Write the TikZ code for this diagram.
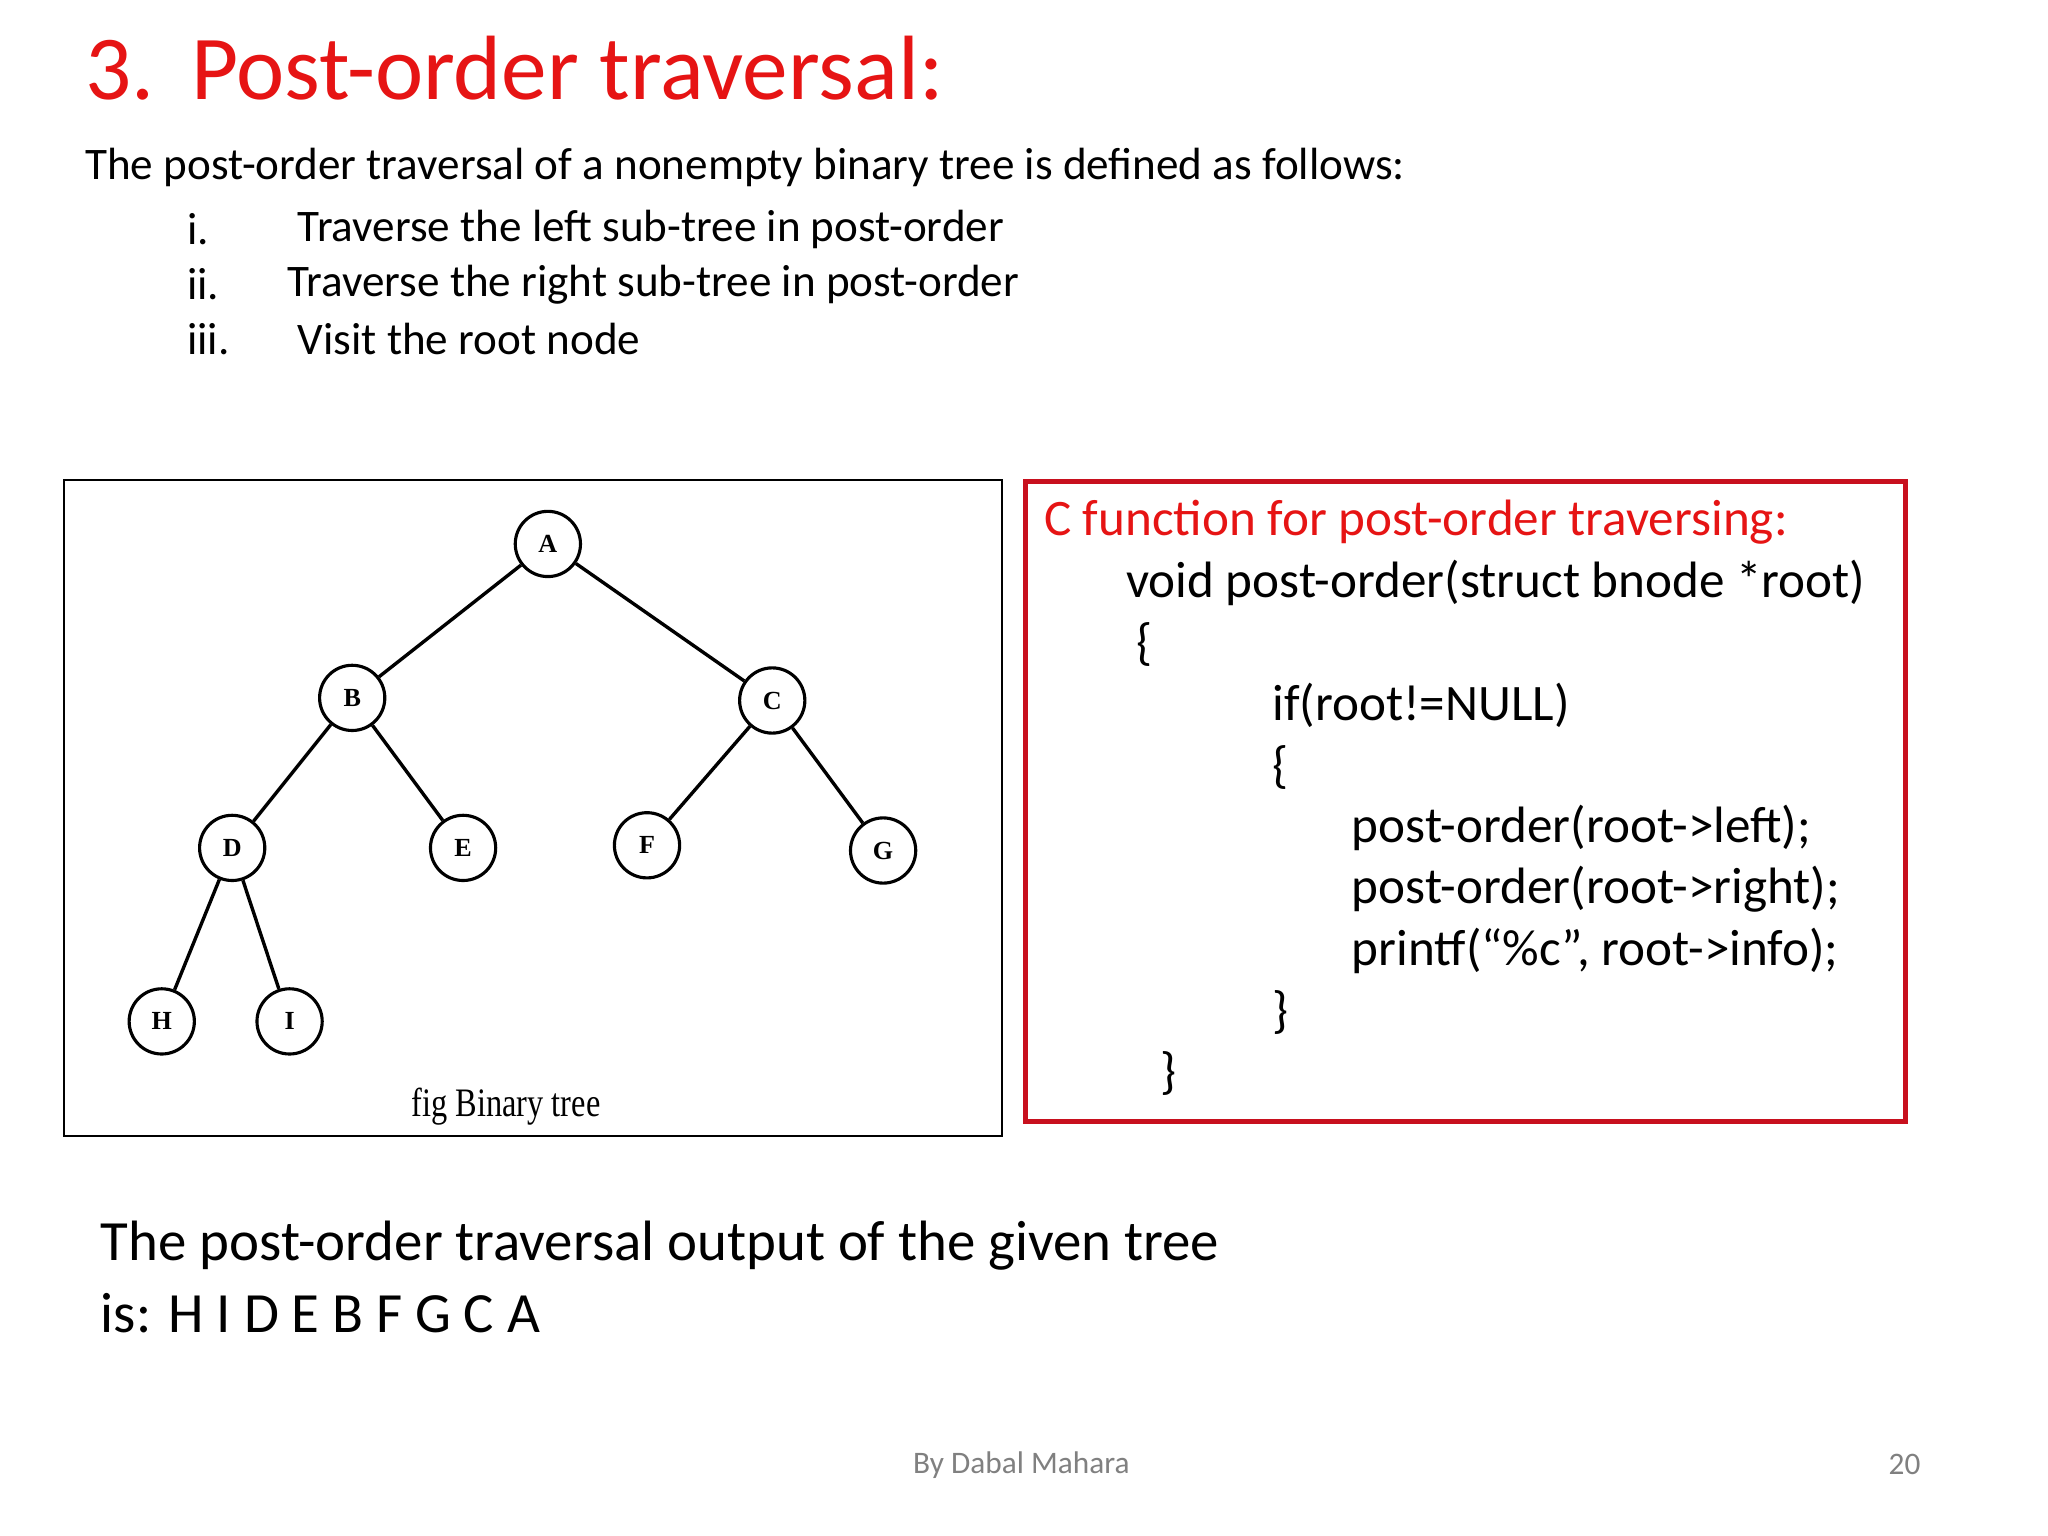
\documentclass[tikz,border=0pt]{standalone}
\usepackage{fontspec}
\setmainfont{Carlito}
\newfontfamily\treefont{Liberation Serif}
\definecolor{tred}{RGB}{230,20,20}
\definecolor{bred}{RGB}{200,16,30}
\begin{document}
\begin{tikzpicture}[x=0.5pt,y=-0.5pt,
  tn/.style={circle,draw,line width=1.2pt,minimum size=25pt,inner sep=0pt,font=\treefont\bfseries\fontsize{10}{12}\selectfont},
  tx/.style={anchor=west,inner sep=0pt},
  body/.style={tx,font=\fontsize{17.3}{20}\selectfont},
  code/.style={tx,font=\fontsize{19.6}{23}\selectfont}]
\useasboundingbox (0,0) rectangle (1570,1177);
\fill[white] (0,0) rectangle (1570,1177);
\node[tx,text=tred,font=\fontsize{35}{40}\selectfont] (title) at (65,52) {3.\hspace{14pt}Post-order traversal:};
\node[body] (l0) at (65,128) {The post-order traversal of a nonempty binary tree is defined as follows:};
\node[body] (n1) at (143,176) {i.};
\node[body] (t1) at (228,176) {Traverse the left sub-tree in post-order};
\node[body] (n2) at (143,218) {ii.};
\node[body] (t2) at (220,218) {Traverse the right sub-tree in post-order};
\node[body] (n3) at (143,260) {iii.};
\node[body] (t3) at (228,260) {Visit the root node};
\node[draw,line width=0.8pt,minimum width=359.5pt,minimum height=251.5pt,anchor=north west,inner sep=0pt] (lbox) at (48,367) {};
\node[tn] (A) at (420,417) {A};
\node[tn] (B) at (270,535) {B};
\node[tn] (C) at (592,537) {C};
\node[tn] (D) at (178,650) {D};
\node[tn] (E) at (355,650) {E};
\node[tn] (F) at (496,648) {F};
\node[tn] (G) at (677,652) {G};
\node[tn] (H) at (124,783) {H};
\node[tn] (I) at (222,783) {I};
\foreach \a/\b in {A/B,A/C,B/D,B/E,C/F,C/G,D/H,D/I} \draw[line width=1.3pt] (\a)--(\b);
\node[font=\treefont\fontsize{15.5}{18}\selectfont\addfontfeature{FakeStretch=0.8}] (cap) at (388,848) {fig Binary tree};
\node[draw=bred,line width=2pt,minimum width=337.5pt,minimum height=245.5pt,anchor=north west,inner sep=0pt] (rbox) at (784,367) {};
\node[code,text=tred] (c0) at (800,400) {C function for post-order traversing:};
\node[code] (c1) at (863,447) {void post-order(struct bnode *root)};
\node[code] (c2) at (871,494) {\{};
\node[code] (c3) at (975,541) {if(root!=NULL)};
\node[code] (c4) at (975,588) {\{};
\node[code] (c5) at (1036,635) {post-order(root->left);};
\node[code] (c6) at (1036,682) {post-order(root->right);};
\node[code] (c7) at (1036,729) {printf(“\%c”, root->info);};
\node[code] (c8) at (975,776) {\}};
\node[code] (c9) at (889,823) {\}};
\node[tx,font=\fontsize{21.8}{26}\selectfont] (o1) at (77,955) {The post-order traversal output of the given tree};
\node[tx,font=\fontsize{21.8}{26}\selectfont] (o2) at (77,1007) {is: H I D E B F G C A};
\node[text=gray,font=\fontsize{12}{14}\selectfont] (f1) at (783,1123) {By Dabal Mahara};
\node[text=gray,font=\fontsize{12}{14}\selectfont] (f2) at (1460,1123) {20};
\end{tikzpicture}
\end{document}
